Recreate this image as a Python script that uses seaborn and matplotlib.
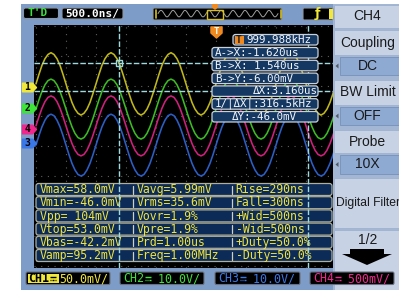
import numpy as np
import pandas as pd
import matplotlib
matplotlib.use('Agg')
import matplotlib.pyplot as plt
import matplotlib.patches as mpatches
import matplotlib.transforms as mtrans
from matplotlib.path import Path
import seaborn as sns

sns.set_theme(style='dark')
plt.rcParams['font.family'] = ['DejaVu Sans Mono', 'DejaVu Sans']

# ---- values read from the scope screen ----
# sample times in us from the trigger (500ns/div), one sample each 50ns
t_us = np.round(np.arange(-3.0, 2.0001, 0.05), 2)

# CH1 in mV (50.0mV/div)
ch1_mv = [6, 22, 37, 48, 55, 58, 55, 48, 37, 22, 6, -10, -25, -36, -43, -46, -43, -36, -25, -10,
          6, 22, 37, 48, 55, 58, 55, 48, 37, 22, 6, -10, -25, -36, -43, -46, -43, -36, -25, -10,
          6, 22, 37, 48, 55, 58, 55, 48, 37, 22, 6, -10, -25, -36, -43, -46, -43, -36, -25, -10,
          6, 22, 37, 48, 55, 58, 55, 48, 37, 22, 6, -10, -25, -36, -43, -46, -43, -36, -25, -10,
          6, 22, 37, 48, 55, 58, 55, 48, 37, 22, 6, -10, -25, -36, -43, -46, -43, -36, -25, -10,
          6]
ch1_zero_div = 1.95
ch1_mv_per_div = 50.0

# CH2, CH3, CH4 as screen divisions
ch2_div = [1.23, 1.54, 1.82, 2.04, 2.18, 2.23, 2.18, 2.04, 1.82, 1.54, 1.23, 0.92, 0.64, 0.42, 0.28, 0.23, 0.28, 0.42, 0.64, 0.92,
           1.23, 1.54, 1.82, 2.04, 2.18, 2.23, 2.18, 2.04, 1.82, 1.54, 1.23, 0.92, 0.64, 0.42, 0.28, 0.23, 0.28, 0.42, 0.64, 0.92,
           1.23, 1.54, 1.82, 2.04, 2.18, 2.23, 2.18, 2.04, 1.82, 1.54, 1.23, 0.92, 0.64, 0.42, 0.28, 0.23, 0.28, 0.42, 0.64, 0.92,
           1.23, 1.54, 1.82, 2.04, 2.18, 2.23, 2.18, 2.04, 1.82, 1.54, 1.23, 0.92, 0.64, 0.42, 0.28, 0.23, 0.28, 0.42, 0.64, 0.92,
           1.23, 1.54, 1.82, 2.04, 2.18, 2.23, 2.18, 2.04, 1.82, 1.54, 1.23, 0.92, 0.64, 0.42, 0.28, 0.23, 0.28, 0.42, 0.64, 0.92,
           1.23]
ch3_div = [0.03, 0.35, 0.64, 0.86, 1.01, 1.06, 1.01, 0.86, 0.64, 0.35, 0.03, -0.29, -0.58, -0.80, -0.95, -1.00, -0.95, -0.80, -0.58, -0.29,
           0.03, 0.35, 0.64, 0.86, 1.01, 1.06, 1.01, 0.86, 0.64, 0.35, 0.03, -0.29, -0.58, -0.80, -0.95, -1.00, -0.95, -0.80, -0.58, -0.29,
           0.03, 0.35, 0.64, 0.86, 1.01, 1.06, 1.01, 0.86, 0.64, 0.35, 0.03, -0.29, -0.58, -0.80, -0.95, -1.00, -0.95, -0.80, -0.58, -0.29,
           0.03, 0.35, 0.64, 0.86, 1.01, 1.06, 1.01, 0.86, 0.64, 0.35, 0.03, -0.29, -0.58, -0.80, -0.95, -1.00, -0.95, -0.80, -0.58, -0.29,
           0.03, 0.35, 0.64, 0.86, 1.01, 1.06, 1.01, 0.86, 0.64, 0.35, 0.03, -0.29, -0.58, -0.80, -0.95, -1.00, -0.95, -0.80, -0.58, -0.29,
           0.03]
ch4_div = [0.67, 0.98, 1.26, 1.48, 1.62, 1.67, 1.62, 1.48, 1.26, 0.98, 0.67, 0.36, 0.08, -0.14, -0.28, -0.33, -0.28, -0.14, 0.08, 0.36,
           0.67, 0.98, 1.26, 1.48, 1.62, 1.67, 1.62, 1.48, 1.26, 0.98, 0.67, 0.36, 0.08, -0.14, -0.28, -0.33, -0.28, -0.14, 0.08, 0.36,
           0.67, 0.98, 1.26, 1.48, 1.62, 1.67, 1.62, 1.48, 1.26, 0.98, 0.67, 0.36, 0.08, -0.14, -0.28, -0.33, -0.28, -0.14, 0.08, 0.36,
           0.67, 0.98, 1.26, 1.48, 1.62, 1.67, 1.62, 1.48, 1.26, 0.98, 0.67, 0.36, 0.08, -0.14, -0.28, -0.33, -0.28, -0.14, 0.08, 0.36,
           0.67, 0.98, 1.26, 1.48, 1.62, 1.67, 1.62, 1.48, 1.26, 0.98, 0.67, 0.36, 0.08, -0.14, -0.28, -0.33, -0.28, -0.14, 0.08, 0.36,
           0.67]

# channel ground markers on the left edge (divisions)
marker_labels = ['1', '2', '4', '3']
marker_divs = [1.95, 1.27, 0.57, 0.10]

# cursors
cur_ax_us, cur_bx_us = -1.62, 1.54
cur_ay_mv, cur_by_mv = 40.0, -6.0

cursor_lines = ['A->X:-1.620us', 'B->X: 1.540us', 'B->Y:-6.00mV', '\u0394X:3.160us',
                '1/|\u0394X|:316.5kHz', '\u0394Y:-46.0mV']
freq_text = '999.988kHz'

meas_col1 = ['Vmax=58.0mV', 'Vmin=-46.0mV', 'Vpp= 104mV', 'Vtop=53.0mV', 'Vbas=-42.2mV', 'Vamp=95.2mV']
meas_col2 = ['Vavg=5.99mV', 'Vrms=35.6mV', 'Vovr=1.9%', 'Vpre=1.9%', 'Prd=1.00us', 'Freq=1.00MHz']
meas_col3 = ['Rise=290ns', 'Fall=300ns', '+Wid=500ns', '-Wid=500ns', '+Duty=50.0%', '-Duty=50.0%']

menu_items = ['CH4', 'Coupling', 'DC', 'BW Limit', 'OFF', 'Probe', '10X', 'Digital Filter', '1/2']
menu_selected = [False, False, True, False, True, False, True, False, False]

ch_names = ['CH1', 'CH2', 'CH3', 'CH4']
ch_scales = ['50.0mV/', ' 10.0V/', ' 10.0V/', ' 500mV/']
ch_colors = {'CH1': '#c0b81a', 'CH2': '#3cbc22', 'CH3': '#2c5fc6', 'CH4': '#d0207c'}
ch_text_colors = {'CH1': '#f2e83a', 'CH2': '#3ee43a', 'CH3': '#3a78e8', 'CH4': '#f0288e'}

MONO = ['DejaVu Sans Mono', 'DejaVu Sans']
SANS = ['Liberation Sans', 'DejaVu Sans']
BG_BLUE = '#7d9cc8'
CYAN = '#9edadc'
CHW = 7.02  # width of one mono character at 8.4pt, in pixels

fig = plt.figure(figsize=(3.99, 2.90), dpi=100)
fig.patch.set_facecolor('white')

# background layer in pixel units
bg = fig.add_axes([0, 0, 1, 1])
bg.set_xlim(0, 399)
bg.set_ylim(290, 0)
bg.axis('off')
px = bg.transData

bg.add_patch(mpatches.Rectangle((21, 4), 378, 286, fc=BG_BLUE, ec='none'))


def rbox(ax, x, y, w, h, fc, ec, lw=0.8, r=2.0, z=2):
    p = mpatches.FancyBboxPatch((x, y), w, h, boxstyle=f'round,pad=0,rounding_size={r}',
                                fc=fc, ec=ec, lw=lw, transform=px, zorder=z)
    ax.add_patch(p)
    return p


def dc_sign(x, y, col):
    # DC coupling sign: a full bar over a dashed bar
    bg.plot([x, x + 6], [y - 1.5, y - 1.5], color=col, lw=1.0, zorder=4, solid_capstyle='butt')
    for xs in (x, x + 2.4, x + 4.8):
        bg.plot([xs, xs + 1.2], [y + 1.2, y + 1.2], color=col, lw=1.0, zorder=4, solid_capstyle='butt')


# top bar
rbox(bg, 23.5, 8, 35, 10.5, 'black', '#8c96a4')
bg.text(28, 13.5, "T'D", color='#3ee040', fontsize=8, family=MONO, va='center', fontweight='bold', zorder=3)
rbox(bg, 62, 8, 61, 11, 'black', '#8c96a4')
bg.text(65.5, 13.7, '500.0ns/', color='white', fontsize=8, family=MONO, va='center', fontweight='bold', zorder=3)
rbox(bg, 153, 8, 129, 12, 'black', '#8c96a4', r=1)
ov = np.array(ch1_mv[:-1] + ch1_mv)
ov_x = np.linspace(158, 278, len(ov))
bg.plot(ov_x, 14 - ov / 16.0, color='#a0a0a0', lw=0.7, zorder=3)
bg.add_patch(mpatches.Rectangle((207, 9.5), 16, 9, fc='none', ec='#d8c020', lw=1.0, zorder=3))
bg.plot([156, 156], [10, 18], color='#d8c020', lw=1.2, zorder=3)
bg.plot([280.5, 280.5], [10, 18], color='#d8c020', lw=1.2, zorder=3)
bg.add_patch(mpatches.Polygon([[212, 4], [218, 4], [218, 7.5], [215, 10], [212, 7.5]],
                              fc='#f08a20', ec='none', zorder=4))
rbox(bg, 303, 8, 30, 12, 'black', '#8c96a4', r=1)
bg.text(317, 14, '\u0192', color='#f2e83a', fontsize=9, family=['DejaVu Sans'],
        ha='center', va='center', fontweight='bold', zorder=3)
bg.add_patch(mpatches.Rectangle((329, 9), 3.5, 10, fc='#f2e83a', ec='none', zorder=3))

# right menu panel
bg.add_patch(mpatches.Rectangle((333, 4), 66, 286, fc='#a3b6d3', ec='none'))
menu_boxes = [(5, 23), (30, 25), (57, 18), (80, 25), (107, 18), (130, 23), (155, 19), (178, 50), (230, 60)]
for (top, h), label, sel in zip(menu_boxes, menu_items, menu_selected):
    if sel:
        bg.add_patch(mpatches.Rectangle((340, top), 59, h, fc='#8eaad3', ec='#7690b8', lw=0.6))
        bg.add_patch(mpatches.Polygon([[335.5, top + h / 2], [338.5, top + h / 2 - 2.5],
                                       [338.5, top + h / 2 + 2.5]], fc='#505a66', ec='none'))
    else:
        bg.add_patch(mpatches.Rectangle((334, top), 65, h, fc='#c7d3e5', ec='#9eb2cf', lw=0.6))
    cy = top + h / 2 if label != '1/2' else 240
    if label == 'Digital Filter':
        bg.text(335.5, cy, label, fontsize=8.7, family=SANS, color='#1a1a1a', va='center', ha='left')
    else:
        bg.text(367.5, cy, label, fontsize=10, family=SANS, color='#1a1a1a', va='center', ha='center')
bg.add_patch(mpatches.Polygon([[350, 249], [384, 249], [384, 254], [392, 254], [367, 265],
                               [342, 254], [350, 254]], fc='black', ec='none'))

# bottom channel status
status_boxes = [(26, 84), (120, 84), (215, 85), (310, 84)]
for (x0, w), name, scale in zip(status_boxes, ch_names, ch_scales):
    rbox(bg, x0, 272, w, 12.5, 'black', '#6a7080', r=1.5)
    col = ch_text_colors[name]
    if name == 'CH1':
        bg.add_patch(mpatches.Rectangle((27.5, 273.5), 31, 9.5, fc=col, ec='none', zorder=3))
        bg.text(28.5, 278.5, name, color='black', fontsize=8.4, family=MONO,
                va='center', fontweight='bold', zorder=4)
        dc_sign(28.5 + 3 * CHW + 0.5, 278.5, 'black')
        bg.text(59, 278.5, scale, color=col, fontsize=8.4, family=MONO, va='center', zorder=4)
    else:
        bg.text(x0 + 3, 278.5, name, color=col, fontsize=8.4, family=MONO, va='center', zorder=4)
        dc_sign(x0 + 3 + 3 * CHW + 0.5, 278.5, col)
        bg.text(x0 + 3 + 4 * CHW, 278.5, scale, color=col, fontsize=8.4, family=MONO, va='center', zorder=4)

# scope screen, x in us, y in divisions
ax = fig.add_axes([34 / 399, 22 / 290, 299 / 399, 243 / 290])
ax.set_facecolor('black')

for xv in np.arange(-3.0, 2.0, 0.5):
    ax.axvline(xv, color='#5e5e5e', lw=0.8, ls=(0, (1, 5)), zorder=1)
for yv in np.arange(-4, 5, 1):
    ax.axhline(yv, color='#5e5e5e', lw=0.8, ls=(0, (1, 5)), zorder=1)

df = pd.DataFrame({
    't': np.concatenate([t_us] * 4),
    'div': np.concatenate([np.array(ch3_div), np.array(ch4_div), np.array(ch2_div),
                           ch1_zero_div + np.array(ch1_mv) / ch1_mv_per_div]),
    'ch': ['CH3'] * len(t_us) + ['CH4'] * len(t_us) + ['CH2'] * len(t_us) + ['CH1'] * len(t_us),
})
sns.lineplot(data=df, x='t', y='div', hue='ch', palette=ch_colors, hue_order=['CH3', 'CH4', 'CH2', 'CH1'],
             estimator=None, sort=False, legend=False, lw=1.15, ax=ax, zorder=2)

# horizontal cursors
ya = ch1_zero_div + cur_ay_mv / ch1_mv_per_div
yb = ch1_zero_div + cur_by_mv / ch1_mv_per_div
for yv in (ya, yb):
    ax.axhline(yv, color=CYAN, lw=1.0, ls=(0, (4, 1.5)), zorder=3)

# measurement table
for i, (a, b, c) in enumerate(zip(meas_col1, meas_col2, meas_col3)):
    top = 183.5 + 13.2 * i
    rbox(ax, 36, top, 296, 12, '#0d2b57', '#aeb09c', lw=0.9, r=2.5, z=4)
    for xs in (133, 232):
        ax.plot([xs, xs], [top + 2, top + 10], color='#d0d0c0', lw=0.9, transform=px, zorder=4.2)
    for xt, s in zip((39.5, 136.5, 235.5), (a, b, c)):
        ax.text(xt, top + 6.3, s, color='#efe33c', fontsize=8.3, family=MONO, va='center',
                transform=px, zorder=4.5)

# vertical cursors
for xv in (cur_ax_us, cur_bx_us):
    ax.axvline(xv, color=CYAN, lw=1.0, ls=(0, (4, 1.5)), zorder=5)
ax.plot([cur_ax_us], [ya], marker='s', ms=5, mfc='none', mec=CYAN, mew=1.0, zorder=5)

# cursor readouts
rbox(ax, 233, 34.5, 85, 10.5, '#143862', '#c8d0da', lw=0.9, r=2.5, z=6)
ax.add_patch(mpatches.Rectangle((234.5, 35.5), 9, 8.5, fc='#f08a20', ec='none', transform=px, zorder=6.2))
ax.text(239, 40, 'T', color='#1a1a1a', fontsize=7, family=MONO, ha='center', va='center',
        fontweight='bold', transform=px, zorder=6.5)
ax.text(246, 40, freq_text, color='#f4f6fa', fontsize=7.8, family=MONO, va='center',
        transform=px, zorder=6.5)
cursor_x = [215, 215, 215, 253, 215, 232]
for i, (s, xt) in enumerate(zip(cursor_lines, cursor_x)):
    top = 47.5 + 12.8 * i
    rbox(ax, 212, top, 106, 10.5, '#143862', '#c8d0da', lw=0.9, r=2.5, z=6)
    ax.text(xt, top + 5.5, s, color='#f4f6fa', fontsize=7.8, family=MONO, va='center',
            transform=px, zorder=6.5)

# trigger position marker and channel ground markers
down_plate = Path([(-1, 1), (1, 1), (1, -0.1), (0, -1), (-1, -0.1), (-1, 1)],
                  [1, 2, 2, 2, 2, 79])
right_plate = Path([(-1, 0.62), (0.45, 0.62), (1, 0), (0.45, -0.62), (-1, -0.62), (-1, 0.62)],
                   [1, 2, 2, 2, 2, 79])
trx = mtrans.blended_transform_factory(ax.transData, px)
ax.plot([0], [32], marker=down_plate, ms=8, color='#f08a20', transform=trx, clip_on=False, zorder=7)
ax.text(0, 31, 'T', color='white', fontsize=6.5, family=MONO, ha='center', va='center',
        fontweight='bold', transform=trx, zorder=7.5)
mk = mtrans.blended_transform_factory(px, ax.transData)
for lab, dv in zip(marker_labels, marker_divs):
    name = 'CH' + lab
    ax.plot([28.5], [dv], marker=right_plate, ms=10, color=ch_text_colors[name], transform=mk,
            clip_on=False, zorder=7)
    ax.text(27.5, dv, lab, color='black', fontsize=7, family=MONO, ha='center', va='center',
            fontweight='bold', transform=mk, clip_on=False, zorder=7.5)

ax.set_xlim(-3.033, 1.95)
ax.set_ylim(-4.067, 4.033)
ax.set_xlabel('')
ax.set_ylabel('')
ax.set_xticks([])
ax.set_yticks([])
for sp in ax.spines.values():
    sp.set_visible(False)

fig.savefig('out.png', dpi=100, facecolor='white')
